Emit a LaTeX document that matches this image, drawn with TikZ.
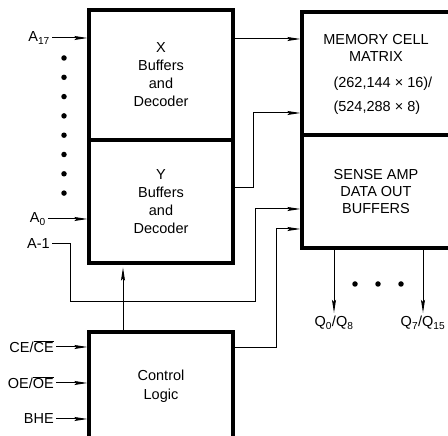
\documentclass[tikz,border=0pt]{standalone}
\usepackage{fontspec}
\setmainfont{Liberation Sans}
\usetikzlibrary{arrows.meta}

\begin{document}
\begin{tikzpicture}[x=1pt,y=1pt,
  font=\fontsize{14.5}{18}\selectfont,
  blk/.style={draw,line width=3.2pt,align=center,inner sep=0pt},
  wire/.style={line width=1pt},
  arr/.style={wire,-{Stealth[length=13pt,width=4pt,inset=2pt]}},
  pin/.style={anchor=east,inner sep=2pt},
  bullet/.style={circle,fill,inner sep=0pt,minimum size=5.5pt}]
\useasboundingbox (0,0) rectangle (448,436);
\clip (0,0) rectangle (448,436);

% decoder column
\node[blk,minimum width=144,minimum height=130] (xdec) at (161,361)
  {X\\Buffers\\and\\Decoder};
\node[blk,minimum width=144,minimum height=123] (ydec) at (161,234.5)
  {Y\\Buffers\\and\\Decoder};
\node[blk,minimum width=144,minimum height=108,
  font=\fontsize{14.5}{19}\selectfont] (ctrl) at (161,50) {Control\\Logic};

% array and output buffers (run off the right edge)
\node[blk,minimum width=148,minimum height=123] (mem) at (376,362.5) {};
\node[align=center,font=\fontsize{14.5}{17}\selectfont] (memtitle) at (376,388)
  {MEMORY CELL\\MATRIX};
\node[anchor=west,align=left] (memsize) at (330,340)
  {(262,144 × 16)/\\[6pt](524,288 × 8)};
\node[blk,minimum width=148,minimum height=113,
  font=\fontsize{14.5}{17}\selectfont] (sense) at (376,244.5)
  {SENSE AMP\\DATA OUT\\BUFFERS};

% pins
\node[pin] (a17) at (52,398) {A\textsubscript{17}};
\node[pin] (a0) at (48,217) {A\textsubscript{0}};
\node[pin] (am1) at (52,192) {A-1};
\node[pin] (ce) at (56,89) {CE/$\overline{\mbox{CE}}$};
\node[pin] (oe) at (56,53) {OE/$\overline{\mbox{OE}}$};
\node[pin] (bhe) at (56,17) {BHE};
\node (q0) at (334,113) {Q\textsubscript{0}/Q\textsubscript{8}};
\node (q7) at (423,113) {Q\textsubscript{7}/Q\textsubscript{15}};

\foreach \i in {0,...,7}
  \node[bullet] (ad\i) at (64,378-19.3*\i) {};
\foreach \x in {355,378,401}
  \node[bullet] (qd\x) at (\x,152) {};

\draw[arr] (a17.east) -- (a17.east -| xdec.west);
\draw[arr] (a0.east) -- (a0.east -| ydec.west);
\draw[arr] (ce.east) -- (ce.east -| ctrl.west);
\draw[arr] (oe.east) -- (oe.east -| ctrl.west);
\draw[arr] (bhe.east) -- (bhe.east -| ctrl.west);

\draw[arr] (xdec.east |- 0,397) -- (mem.west |- 0,397);
\draw[arr] (ydec.east |- 0,248) -- (253,248) |- (mem.west |- 0,323);
\draw[arr] (am1.east) -| (70,134) -- (255,134) |- (sense.west |- 0,227);
\draw[arr] (ctrl.east |- 0,88) -| (276,207) -- (sense.west |- 0,207);
\draw[arr,shorten >=3pt] (ctrl.north -| 123,0) -- (ydec.south -| 123,0);

\draw[arr] (sense.south -| q0.north) -- (q0.north);
\draw[arr] (sense.south -| q7.north) -- (q7.north);
\end{tikzpicture}
\end{document}
